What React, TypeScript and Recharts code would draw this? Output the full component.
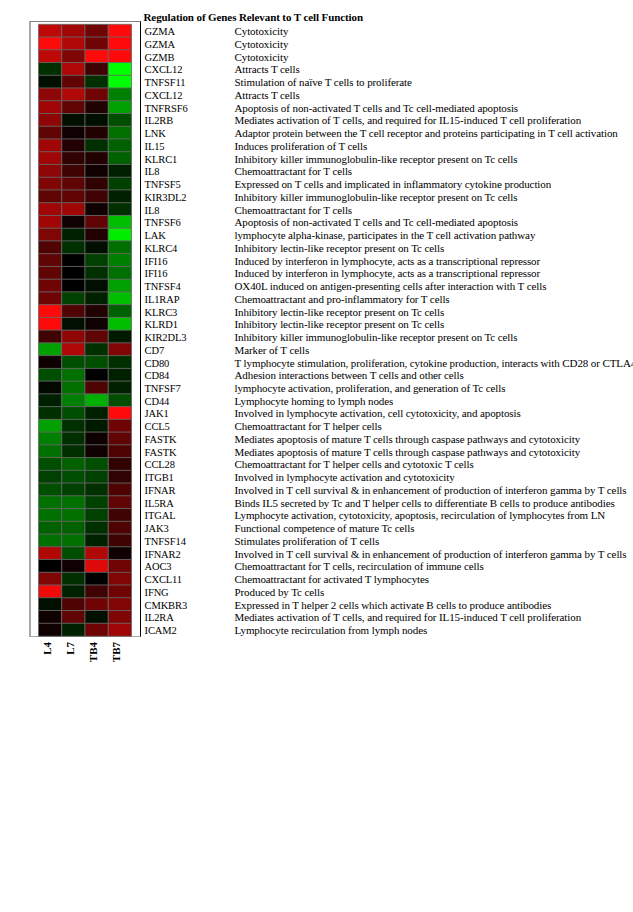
import React from "react";
import { BarChart, Bar, XAxis, YAxis, Cell } from "recharts";

const title = "Regulation of Genes Relevant to T cell Function";

const columns = ["L4", "L7", "TB4", "TB7"];

const genes = [
  "GZMA", "GZMA", "GZMB", "CXCL12", "TNFSF11", "CXCL12", "TNFRSF6", "IL2RB",
  "LNK", "IL15", "KLRC1", "IL8", "TNFSF5", "KIR3DL2", "IL8", "TNFSF6",
  "LAK", "KLRC4", "IFI16", "IFI16", "TNFSF4", "IL1RAP", "KLRC3", "KLRD1",
  "KIR2DL3", "CD7", "CD80", "CD84", "TNFSF7", "CD44", "JAK1", "CCL5",
  "FASTK", "FASTK", "CCL28", "ITGB1", "IFNAR", "IL5RA", "ITGAL", "JAK3",
  "TNFSF14", "IFNAR2", "AOC3", "CXCL11", "IFNG", "CMKBR3", "IL2RA", "ICAM2",
];

const functions = [
  "Cytotoxicity",
  "Cytotoxicity",
  "Cytotoxicity",
  "Attracts T cells",
  "Stimulation of naïve T cells to proliferate",
  "Attracts T cells",
  "Apoptosis of non-activated T cells and Tc cell-mediated apoptosis",
  "Mediates activation of T cells, and required for IL15-induced T cell proliferation",
  "Adaptor protein between the T cell receptor and proteins participating in T cell activation",
  "Induces proliferation of T cells",
  "Inhibitory killer immunoglobulin-like receptor present on Tc cells",
  "Chemoattractant for T cells",
  "Expressed on T cells and implicated in inflammatory cytokine production",
  "Inhibitory killer immunoglobulin-like receptor present on Tc cells",
  "Chemoattractant for T cells",
  "Apoptosis of non-activated T cells and Tc cell-mediated apoptosis",
  "lymphocyte alpha-kinase, participates in the T cell activation pathway",
  "Inhibitory lectin-like receptor present on Tc cells",
  "Induced by interferon in lymphocyte, acts as a transcriptional repressor",
  "Induced by interferon in lymphocyte, acts as a transcriptional repressor",
  "OX40L induced on antigen-presenting cells after interaction with T cells",
  "Chemoattractant and pro-inflammatory for T cells",
  "Inhibitory lectin-like receptor present on Tc cells",
  "Inhibitory lectin-like receptor present on Tc cells",
  "Inhibitory killer immunoglobulin-like receptor present on Tc cells",
  "Marker of  T cells",
  "T lymphocyte stimulation, proliferation, cytokine production, interacts with CD28 or CTLA4",
  "Adhesion interactions between T cells and other cells",
  "lymphocyte activation, proliferation, and generation of Tc cells",
  "Lymphocyte homing to lymph nodes",
  "Involved in lymphocyte activation, cell cytotoxicity, and apoptosis",
  "Chemoattractant for T helper cells",
  "Mediates apoptosis of mature T cells through caspase pathways and cytotoxicity",
  "Mediates apoptosis of mature T cells through caspase pathways and cytotoxicity",
  "Chemoattractant for T helper cells and cytotoxic T cells",
  "Involved in lymphocyte activation and cytotoxicity",
  "Involved in T cell survival & in enhancement of production of interferon gamma by T cells",
  "Binds IL5 secreted by Tc and T helper cells to differentiate B cells to produce antibodies",
  "Lymphocyte activation, cytotoxicity, apoptosis, recirculation of lymphocytes from LN",
  "Functional competence of mature Tc cells",
  "Stimulates proliferation of T cells",
  "Involved in T cell survival & in enhancement of production of interferon gamma by T  cells",
  "Chemoattractant for T cells, recirculation of immune cells",
  "Chemoattractant for activated T lymphocytes",
  "Produced by Tc cells",
  "Expressed in T helper 2 cells which activate B cells to produce antibodies",
  "Mediates activation of T cells, and required for IL15-induced T cell proliferation",
  "Lymphocyte recirculation from lymph nodes",
];

// expression values: positive = up (red), negative = down (green)
const L4 = [
  0.75, 1.0, 0.75, -0.19, -0.06, 0.56, 0.63, 0.56,
  0.38, 0.63, 0.63, 0.56, 0.5, 0.38, 0.63, 0.63,
  0.5, 0.31, 0.38, 0.38, 0.44, 0.44, 1.0, 1.0,
  0.25, -0.63, 0.06, -0.31, -0.03, -0.13, -0.19, -0.63,
  -0.5, -0.44, -0.31, -0.25, -0.31, -0.44, -0.44, -0.38,
  -0.44, 0.69, 0.0, 0.5, 0.94, -0.06, 0.06, 0.06,
];
const L7 = [
  0.63, 0.69, 0.5, 0.69, 0.38, 0.69, 0.38, -0.06,
  0.06, 0.13, 0.19, 0.25, 0.38, 0.38, 0.63, 0.06,
  -0.13, -0.19, 0.0, 0.0, 0.0, -0.25, 0.31, -0.06,
  0.56, 0.69, -0.31, -0.44, -0.44, -0.5, -0.31, -0.19,
  -0.19, -0.19, -0.38, -0.31, -0.25, -0.44, -0.44, -0.38,
  -0.44, -0.31, 0.06, -0.19, -0.13, 0.31, 0.38, -0.13,
];
const TB4 = [
  0.44, 0.44, 1.0, 0.25, -0.19, 0.44, 0.13, -0.06,
  0.13, -0.19, 0.13, 0.06, 0.19, 0.25, 0.06, 0.38,
  0.13, -0.06, -0.25, -0.19, -0.06, -0.13, 0.13, 0.06,
  0.38, -0.19, -0.31, 0.0, 0.31, -0.69, -0.13, -0.1,
  0.06, 0.06, -0.31, -0.25, -0.19, -0.25, -0.25, -0.19,
  -0.13, 0.69, 0.88, 0.0, 0.25, 0.44, -0.06, 0.44,
];
const TB7 = [
  1.0, 1.0, 1.0, -1.0, -1.0, -0.5, -0.63, -0.31,
  -0.44, -0.38, -0.38, -0.13, -0.25, -0.13, -0.19, -0.75,
  -0.93, -0.44, -0.5, -0.44, -0.63, -0.75, -0.38, -0.75,
  -0.1, 0.5, -0.19, -0.13, -0.13, -0.31, 1.0, 0.44,
  0.38, 0.31, 0.19, 0.19, 0.31, 0.38, 0.25, 0.31,
  0.25, 0.06, 0.44, 0.5, 0.44, 0.5, 0.5, 0.63,
];

const series = [L4, L7, TB4, TB7];

const rows = genes.map((g, i) => ({
  key: String(i),
  gene: g,
  w0: 1,
  w1: 1,
  w2: 1,
  w3: 1,
}));

function heatColor(v: number): string {
  const m = Math.round(Math.min(1, Math.abs(v)) * 255);
  return v >= 0 ? `rgb(${m},${Math.round(m * 0.04)},${Math.round(m * 0.04)})` : `rgb(0,${m},0)`;
}

const FONT = "'Liberation Serif', 'Times New Roman', serif";

const RowTick = (props: any) => {
  const { x, y, payload } = props;
  const i = Number(payload.value);
  return (
    <g>
      <text x={x + 13} y={y + 4.5} fontFamily={FONT} fontSize={10.5} fill="#000" letterSpacing={-0.1}>
        {genes[i]}
      </text>
      <text x={x + 103} y={y + 4.5} fontFamily={FONT} fontSize={11} fill="#000" letterSpacing={-0.1}>
        {functions[i]}
      </text>
    </g>
  );
};

const ColTick = (props: any) => {
  const { x, y, payload } = props;
  const ci = Math.floor(Number(payload.value));
  const bx = x + 0.5;
  const by = y + 6;
  return (
    <text
      x={bx}
      y={by}
      transform={`rotate(-90 ${bx} ${by})`}
      textAnchor="end"
      fontFamily={FONT}
      fontSize={11}
      fontWeight="bold"
      fill="#000"
    >
      {columns[ci]}
    </text>
  );
};

export default function App() {
  return (
    <div style={{ position: "absolute", left: 0, top: 0, width: 633, height: 912, overflow: "hidden", background: "#fff" }}>
      <svg style={{ position: "absolute", left: 0, top: 0 }} width={633} height={30}>
        <text x={143.5} y={20.5} fontFamily={FONT} fontSize={11} fontWeight="bold" letterSpacing={-0.1} fill="#000">
          {title}
        </text>
      </svg>
      <div
        style={{
          position: "absolute",
          left: 29,
          top: 21,
          width: 108.5,
          height: 614,
          borderLeft: "2px solid #a8a8a8",
          borderTop: "1px solid #808080",
          borderRight: "1px solid #000",
          borderBottom: "1px solid #a8a8a8",
        }}
      />
      <div style={{ position: "absolute", left: 0, top: 0 }}>
        <BarChart
          width={633}
          height={912}
          layout="vertical"
          data={rows}
          margin={{ top: 24.3, left: 38.5, right: 0, bottom: 246 }}
          barCategoryGap={0}
          barGap={0}
        >
          <XAxis
            type="number"
            domain={[0, 4]}
            ticks={[0.5, 1.5, 2.5, 3.5]}
            height={30}
            axisLine={false}
            tickLine={false}
            tickSize={0}
            tickMargin={0}
            interval={0}
            tick={<ColTick />}
          />
          <YAxis
            type="category"
            dataKey="key"
            orientation="right"
            width={501.5}
            axisLine={false}
            tickLine={false}
            tickSize={0}
            tickMargin={0}
            interval={0}
            tick={<RowTick />}
          />
          {columns.map((c, ci) => (
            <Bar key={c} dataKey={`w${ci}`} stackId="heat" isAnimationActive={false}>
              {rows.map((r, i) => (
                <Cell key={r.key} fill={heatColor(series[ci][i])} stroke="#666" strokeWidth={0.8} />
              ))}
            </Bar>
          ))}
        </BarChart>
      </div>
    </div>
  );
}
